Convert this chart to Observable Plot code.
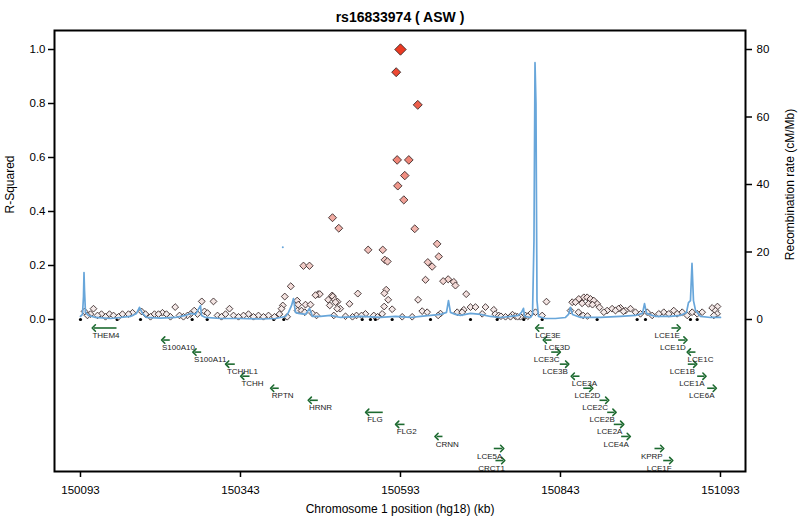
<!DOCTYPE html>
<html><head><meta charset="utf-8">
<script src="https://cdn.jsdelivr.net/npm/d3@7"></script>
<script src="https://cdn.jsdelivr.net/npm/@observablehq/plot@0.6"></script>
<style>body{margin:0;background:#fff;}</style>
</head><body><div id="chart"></div>
<script>
const title = "rs16833974 ( ASW )";
const xLabel = "Chromosome 1 position (hg18) (kb)";
const yLabel = "R-Squared";
const y2Label = "Recombination rate (cM/Mb)";
const xTicks = [150093, 150343, 150593, 150843, 151093];
const r2Ticks = [0, 0.2, 0.4, 0.6, 0.8, 1.0];
const rateTicks = [0, 20, 40, 60, 80];

// SNP positions (kb) and r-squared with the lead SNP
const snpPos = [
150593.0,150586.3,150620.0,150587.8,150606.0,150599.7,150588.8,150598.2,150615.3,150650.3,
150652.8,150635.7,150642.5,150632.1,150659.7,150667.5,150676.3,150678.9,150695.7,150620.5,
150821.1,150486.8,150496.6,150542.5,150565.3,150568.5,150572.7,150441.4,150450.8,150421.6,
150325.8,150412.2,150464.4,150460.2,150466.9,150487.2,150480.0,150490.3,150494.6,150498.8,
150482.5,150513.3,150526.3,150570.7,150567.8,150573.8,150567.5,150580.0,150407.1,150409.1,
150433.2,150444.6,150452.4,150432.1,150438.3,150431.6,150486.3,150491.4,150494.1,150538.3,
150551.3,150564.4,150626.9,150634.7,150681.6,150689.4,150691.9,150702.4,150710.2,150725.8,
150738.8,150720.7,150746.6,150241.0,150282.5,150300.8,150270.7,150291.4,150796.1,150803.9,
150814.4,
150861.3,150866.4,150871.6,150879.4,150884.7,150889.9,150895.0,150900.3,150876.8,150886.8,
150893.0,150858.6,150871.1,150878.4,150885.2,150903.9,150910.7,150915.9,150923.7,150928.9,
150936.8,150944.6,150952.4,150960.2,150968.0,150978.5,150986.3,150996.6,151004.4,151012.2,
151020.0,151025.3,151033.2,151041.0,151048.8,151056.6,151064.4,151080.0,151085.2,151087.8,
151082.6,150933.6,150941.4,151088.3,
150099.3,150103.9,150108.6,150113.3,150119.6,150125.8,150132.1,150138.3,150144.6,150152.4,
150158.6,150168.0,150174.3,150188.3,150194.6,150202.4,150208.6,150214.9,150221.1,150227.4,
150233.6,150247.7,150253.9,150260.2,150264.9,150275.8,150286.8,150307.1,150313.3,150319.6,
150332.1,150339.9,150347.7,150355.5,150363.3,150371.1,150378.9,150386.8,150396.1,150403.9,
150416.0,150443.5,150455.5,150461.8,150488.8,150524.3,150595.7,150611.3,150651.9,150655.5,
150757.1,150764.9,150772.7,150780.5,150788.3,150507.1,150518.0,150532.1,150557.1,150741.0,
150750.0,150768.0,150776.0,150792.0
];
const snpR2 = [
1.000,0.916,0.795,0.591,0.591,0.533,0.495,0.443,0.336,0.280,
0.233,0.212,0.196,0.147,0.142,0.149,0.139,0.126,0.094,0.073,
0.066,0.377,0.338,0.258,0.258,0.221,0.215,0.199,0.199,0.123,
0.040,0.085,0.094,0.090,0.094,0.085,0.073,0.073,0.066,0.040,
0.052,0.058,0.096,0.110,0.097,0.073,0.048,0.038,0.040,0.052,
0.055,0.055,0.055,0.033,0.033,0.070,0.089,0.064,0.040,0.021,
0.015,0.021,0.031,0.027,0.027,0.027,0.036,0.046,0.046,0.046,
0.036,0.021,0.015,0.046,0.067,0.067,0.033,0.024,0.021,0.027,
0.015,
0.064,0.064,0.076,0.082,0.082,0.076,0.070,0.058,0.060,0.058,
0.055,0.033,0.027,0.015,0.013,0.045,0.027,0.033,0.040,0.033,
0.043,0.033,0.040,0.027,0.021,0.027,0.015,0.021,0.027,0.021,
0.033,0.021,0.027,0.015,0.027,0.021,0.027,0.043,0.033,0.021,
0.015,0.040,0.030,0.048,
0.030,0.015,0.020,0.040,0.015,0.020,0.010,0.020,0.015,0.010,
0.020,0.020,0.025,0.030,0.020,0.010,0.020,0.020,0.025,0.020,
0.010,0.015,0.010,0.015,0.020,0.020,0.030,0.015,0.010,0.020,
0.015,0.010,0.015,0.020,0.010,0.015,0.010,0.015,0.010,0.020,
0.010,0.027,0.022,0.015,0.015,0.015,0.010,0.010,0.015,0.022,
0.010,0.010,0.012,0.010,0.015,0.012,0.010,0.015,0.010,0.020,
0.012,0.018,0.010,0.012
];
// SNPs without LD information (drawn at zero)
const noLdPos = [150093.0,150150.3,150186.8,150267.5,150291.0,150395.0,150410.7,150533.2,150546.1,150553.9,
150580.0,150639.9,150702.4,150744.1,150785.7,150814.4,150900.3,150962.8,150975.8,151046.1,151056.6];

// Recombination rate (cM/Mb)
const recombPos = [150093.0,150096.1,150097.7,150098.5,150099.3,150100.8,150105.5,150116.4,150139.9,150155.5,
150171.1,150180.5,150185.2,150189.9,150196.1,150218.0,150241.4,150257.1,150264.9,150272.7,
150280.5,150282.1,150288.3,150311.8,150343.0,150374.3,150397.7,150413.3,150418.0,150422.7,
150425.8,150428.9,150433.6,150444.6,150450.8,150455.5,150468.0,150483.6,150499.3,150530.5,
150561.8,150585.2,150608.6,150624.3,150639.9,150655.5,150664.9,150668.0,150671.1,150678.9,
150686.8,150702.4,150718.0,150733.6,150749.3,150764.9,150777.4,150782.1,150785.2,150786.8,
150796.1,150799.3,150801.6,150803.2,150804.7,150806.3,150808.6,150819.5,150835.2,150850.8,
150855.5,150858.6,150861.8,150874.3,150905.5,150936.8,150960.2,150971.1,150974.3,150977.4,
150991.5,151014.9,151030.5,151039.9,151043.0,151046.1,151048.5,151050.8,151054.0,151061.8,
151077.4,151093.0];
const recombRate = [0.9,1.5,6.8,13.9,8.6,2.1,1.2,0.6,0.3,0.6,
0.9,1.8,3.6,1.8,0.6,0.4,0.6,1.2,1.8,1.5,
4.1,1.2,0.6,0.3,0.3,0.15,0.3,0.9,2.1,4.1,
6.2,2.1,1.8,1.5,3.3,0.9,0.9,1.2,0.6,0.9,
0.6,0.9,0.6,0.9,1.2,1.5,2.1,5.6,2.1,1.5,
1.2,1.8,1.5,0.9,0.6,0.9,1.2,2.1,3.3,0.9,
0.6,1.5,23.4,76.1,64.0,5.6,0.9,0.3,0.3,0.6,
1.5,3.6,1.5,0.6,0.6,0.9,1.2,1.8,4.7,1.8,
0.9,0.9,1.2,2.1,5.0,5.6,16.6,5.6,2.7,0.9,
0.6,0.6];
const recombIsoPos = [150409.1];
const recombIsoRate = [21.4];

// Genes
const geneName = ["THEM4","S100A10","S100A11","TCHHL1","TCHH","RPTN","HRNR","FLG","FLG2","CRNN","LCE5A","CRCT1",
"LCE3E","LCE3D","LCE3C","LCE3B","LCE3A","LCE2D","LCE2C","LCE2B","LCE2A","LCE4A","KPRP","LCE1F",
"LCE1E","LCE1D","LCE1C","LCE1B","LCE1A","LCE6A"];
const geneStart = [150113.8,150222.2,150271.1,150322.2,150345.7,150392.5,150451.3,150541.0,150587.8,150649.3,150738.8,150741.4,
150806.6,150818.5,150828.5,150841.9,150862.2,150878.5,150904.0,150916.0,150926.3,150937.8,150989.9,151003.5,
151016.4,151026.9,151043.5,151041.9,151056.6,151072.2];
const geneEnd = [150149.3,150232.5,150281.6,150334.1,150357.1,150402.8,150463.8,150565.3,150599.3,150658.6,150751.9,150753.5,
150816.9,150828.9,150840.3,150853.5,150872.7,150891.0,150916.0,150927.4,150939.4,150949.7,151001.9,151016.0,
151027.8,151038.3,151053.9,151053.5,151068.0,151084.1];
const geneStrand = ["-","-","-","-","-","-","-","-","-","-","+","+",
"-","-","+","+","-","+","+","+","+","+","+","+",
"+","+","-","+","+","+"];
const geneRow = [0,1,2,3,4,5,6,7,8,9,10,11, 0,1,2,3,4,5,6,7,8,9,10,11, 0,1,2,3,4,5];
const geneLabelPos = [150132.8,150246.1,150295.7,150346.1,150361.8,150408.9,150468.0,150553.2,150602.7,150666.0,150732.4,150735.2,
150823.5,150837.8,150821.4,150834.7,150880.5,150885.2,150897.2,150908.2,150920.0,150930.0,150985.7,150997.2,
151009.7,151018.8,151061.8,151033.6,151048.2,151063.8];

// ---- build tables ----
const snps = snpPos.map((p, i) => ({pos: p, r2: snpR2[i]})).sort((a, b) => a.r2 - b.r2);
const noLd = noLdPos.map(p => ({pos: p}));
const recomb = recombPos.map((p, i) => ({pos: p, rate: recombRate[i]}));
const recombIso = recombIsoPos.map((p, i) => ({pos: p, rate: recombIsoRate[i]}));
const rowY = r => -(8.5 + 12.05 * r) / 270;
const genes = geneName.map((n, i) => ({
  name: n, x1: geneStrand[i] === "+" ? geneStart[i] : geneEnd[i],
  x2: geneStrand[i] === "+" ? geneEnd[i] : geneStart[i],
  y: rowY(geneRow[i]), lx: geneLabelPos[i]
}));

const colorFor = d3.interpolateRgb("#f4f0f0", "#ec3a22");
const sizeFor = r2 => r2 >= 0.999 ? 8.4 : Math.min(5.2, 2.8 + 3.5 * r2);
const rateMax = 80;
const font = "'Liberation Sans', Arial, Helvetica, sans-serif";

const chart = Plot.plot({
  width: 800, height: 525,
  marginTop: 30, marginBottom: 54, marginLeft: 54, marginRight: 55,
  style: {fontFamily: font, background: "#fff", color: "#000"},
  x: {domain: [150052.4, 151132.1]},
  y: {domain: [-0.563, 1.0704]},
  marks: [
    Plot.dot(noLd, {x: "pos", y: () => 0, r: 1.6, fill: "#000", stroke: "none"}),
    Plot.dot(snps, {x: "pos", y: "r2", symbol: "diamond2", r: d => sizeFor(d.r2),
      fill: d => colorFor(d.r2), stroke: "#3a2a2a", strokeWidth: 0.9}),
    Plot.line(recomb, {x: "pos", y: d => d.rate / rateMax, stroke: "#68a6da", strokeWidth: 1.7}),
    Plot.dot(recombIso, {x: "pos", y: d => d.rate / rateMax, r: 1, fill: "#68a6da"}),
    Plot.link(genes, {x1: "x1", x2: "x2", y1: "y", y2: "y", stroke: "#1d6a30", strokeWidth: 1.6, markerEnd: "arrow"}),
    Plot.text(genes, {x: "lx", y: "y", text: "name", dy: 7.5, fontSize: 8, fill: "#222",
      fontFamily: "'Liberation Sans Narrow', 'Liberation Sans', Arial, sans-serif"}),
    Plot.frame({stroke: "#000", strokeWidth: 2}),
    Plot.axisY(r2Ticks, {anchor: "left", tickFormat: d3.format(".1f"), tickSize: 6, tickPadding: 3,
      fontSize: 11.5, strokeWidth: 1.5, label: null}),
    Plot.axisY(rateTicks.map(d => d / rateMax), {anchor: "right", tickFormat: d => String(Math.round(d * rateMax)),
      tickSize: 6, tickPadding: 5, fontSize: 11.5, strokeWidth: 1.5, label: null}),
    Plot.axisX(xTicks, {anchor: "bottom", tickFormat: d => String(d), tickSize: 6, tickPadding: 8,
      fontSize: 11.5, strokeWidth: 1.5, label: null}),
    Plot.text([title], {frameAnchor: "top", dy: -18, fontSize: 14, fontWeight: "bold"}),
    Plot.text([xLabel], {frameAnchor: "bottom", dy: 41, fontSize: 12}),
    Plot.text([yLabel], {y: () => 0.5, frameAnchor: "left", textAnchor: "middle", dx: -44, rotate: -90, fontSize: 12}),
    Plot.text([y2Label], {y: () => 0.5, frameAnchor: "right", textAnchor: "middle", dx: 45, rotate: -90, fontSize: 12})
  ]
});
document.getElementById("chart").appendChild(chart);
</script>
</body></html>
